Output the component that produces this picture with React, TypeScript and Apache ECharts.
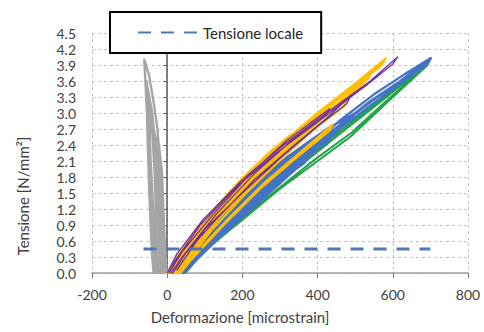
import React, { useEffect, useRef } from "react";
import * as echarts from "echarts";

const xTicks = { min: -200, max: 800, interval: 200 };
const yTicks = { min: 0, max: 4.5, interval: 0.3 };

const grayCycles: [number, number][] = [
  [-8, 0], [-11, 0.6], [-14, 1.3], [-18, 2.0], [-26, 2.7], [-36, 3.2], [-48, 3.7], [-61, 4.0],
  [-58, 3.6], [-54, 3.0], [-51, 2.3], [-48, 1.6], [-44, 0.9], [-40, 0.3], [-36, 0],
  [-20, 0], [-22, 0.8], [-26, 1.6], [-32, 2.4], [-40, 3.0], [-50, 3.4],
  [-48, 3.0], [-45, 2.3], [-42, 1.5], [-38, 0.8], [-33, 0.2], [-28, 0],
  [-2, 0], [-6, 0.5], [-10, 1.2], [-14, 1.9], [-22, 2.4], [-35, 2.6],
  [-34, 2.3], [-32, 1.7], [-30, 1.0], [-27, 0.4], [-22, 0],
  [-14, 0], [-17, 0.9], [-22, 1.8], [-30, 2.5], [-45, 3.0],
  [-46, 2.6], [-44, 1.8], [-40, 1.0], [-35, 0.3], [-30, 0],
  [-26, 0], [-29, 0.9], [-33, 1.8], [-39, 2.6], [-47, 3.2], [-55, 3.6],
  [-52, 3.2], [-47, 2.5], [-41, 1.7], [-36, 1.0], [-32, 0.4], [-15, 0.05], [0, 0],
];

const greenCycles: [number, number][] = [
  [40, 0], [95, 0.45], [190, 1.04], [290, 1.65], [390, 2.22], [461, 2.62], [560, 3.17], [640, 3.62], [701, 4.02],
  [690, 3.88], [600, 3.3], [488, 2.56], [400, 2.1], [300, 1.58], [200, 1.0], [100, 0.42], [48, 0],
  [35, 0], [90, 0.45], [185, 1.07], [285, 1.7], [385, 2.26], [470, 2.72], [570, 3.27], [690, 3.95],
  [680, 3.82], [590, 3.27], [490, 2.63], [395, 2.14], [295, 1.58], [195, 1.0], [95, 0.42], [40, 0],
  [32, 0], [90, 0.5], [180, 1.08], [280, 1.72], [380, 2.3], [460, 2.7],
  [450, 2.56], [370, 2.14], [270, 1.56], [170, 0.95], [80, 0.32], [35, 0],
];

const blueCycles: [number, number][] = [
  [20, 0], [60, 0.35], [130, 0.88], [230, 1.55], [330, 2.15], [430, 2.68], [461, 2.87], [550, 3.35], [630, 3.72], [701, 4.03],
  [690, 3.9], [620, 3.6], [540, 3.2], [450, 2.72], [350, 2.15], [250, 1.55], [150, 0.92], [70, 0.35], [30, 0],
  [30, 0], [75, 0.35], [145, 0.88], [245, 1.55], [345, 2.15], [445, 2.7], [540, 3.22], [620, 3.6], [690, 3.97],
  [680, 3.85], [600, 3.45], [510, 2.98], [420, 2.5], [320, 1.95], [220, 1.35], [120, 0.72], [45, 0.1],
  [15, 0], [55, 0.38], [125, 0.92], [225, 1.6], [325, 2.2], [400, 2.55], [453, 2.7],
  [443, 2.58], [370, 2.25], [270, 1.7], [170, 1.08], [80, 0.45], [25, 0],
  [25, 0], [70, 0.38], [140, 0.9], [240, 1.55], [340, 2.12], [420, 2.55],
  [410, 2.44], [330, 2.02], [230, 1.45], [130, 0.82], [55, 0.25], [28, 0],
  [35, 0], [80, 0.36], [150, 0.88], [250, 1.52], [330, 1.98], [373, 2.18],
  [365, 2.06], [300, 1.75], [200, 1.18], [110, 0.6], [40, 0],
  [10, 0], [50, 0.36], [120, 0.9], [220, 1.58], [320, 2.18], [420, 2.68], [500, 3.0],
  [490, 2.88], [410, 2.55], [310, 2.05], [210, 1.45], [110, 0.78], [30, 0.05],
  [45, 0], [90, 0.35], [160, 0.85], [260, 1.48], [350, 2.05],
  [342, 1.95], [260, 1.42], [160, 0.8], [70, 0.2], [42, 0],
  [22, 0], [65, 0.4], [135, 0.95], [235, 1.62], [320, 2.12], [395, 2.48], [440, 2.62],
  [432, 2.5], [360, 2.1], [280, 1.6], [180, 1.0], [90, 0.42], [30, 0],
  [38, 0], [85, 0.4], [155, 0.95], [255, 1.6], [345, 2.2], [400, 2.42],
  [392, 2.3], [320, 1.88], [240, 1.35], [140, 0.7], [60, 0.15], [40, 0],
];

const yellowCycles: [number, number][] = [
  [0, 0], [30, 0.35], [100, 0.98], [200, 1.76], [300, 2.4], [400, 3.0], [500, 3.55], [581, 4.02],
  [570, 3.9], [490, 3.45], [390, 2.88], [290, 2.28], [190, 1.62], [90, 0.85], [25, 0.25], [10, 0],
  [10, 0], [40, 0.33], [110, 0.95], [210, 1.72], [310, 2.35], [410, 2.92], [480, 3.33], [545, 3.78],
  [535, 3.65], [460, 3.18], [380, 2.7], [280, 2.12], [180, 1.48], [90, 0.78], [20, 0.08],
  [5, 0], [40, 0.4], [110, 1.03], [210, 1.8], [300, 2.38], [405, 3.0],
  [395, 2.88], [300, 2.3], [200, 1.65], [100, 0.9], [15, 0.05],
  [0, 0], [35, 0.4], [100, 1.0], [200, 1.78], [270, 2.25], [330, 2.6],
  [322, 2.5], [260, 2.1], [180, 1.55], [90, 0.88], [20, 0.1],
  [20, 0], [60, 0.4], [130, 1.0], [230, 1.78], [330, 2.4], [440, 3.05], [480, 3.25],
  [470, 3.12], [400, 2.75], [300, 2.15], [200, 1.5], [110, 0.82], [30, 0.05],
  [35, 0], [80, 0.4], [160, 1.0], [260, 1.7], [360, 2.3], [440, 2.78],
  [430, 2.66], [350, 2.2], [250, 1.6], [150, 0.9], [60, 0.22], [35, 0],
  [10, 0], [45, 0.4], [115, 1.0], [200, 1.68], [280, 2.3],
  [272, 2.18], [200, 1.6], [120, 0.95], [50, 0.35], [15, 0],
  [15, 0], [55, 0.42], [125, 1.02], [215, 1.72], [300, 2.3], [360, 2.68],
  [352, 2.55], [290, 2.15], [200, 1.52], [110, 0.85], [40, 0.22], [18, 0],
  [25, 0], [70, 0.45], [140, 1.05], [230, 1.7], [310, 2.25], [380, 2.7],
  [372, 2.58], [300, 2.12], [210, 1.5], [120, 0.82], [45, 0.15], [25, 0],
];

const purpleCycles: [number, number][] = [
  [0, 0], [25, 0.35], [95, 1.0], [200, 1.75], [300, 2.35], [400, 2.88], [461, 3.19], [540, 3.6], [613, 4.05],
  [600, 3.92], [530, 3.52], [450, 3.1], [390, 2.78], [290, 2.25], [190, 1.65], [90, 0.92], [20, 0.22], [5, 0],
  [5, 0], [40, 0.4], [120, 1.08], [220, 1.85], [320, 2.5], [432, 3.08],
  [420, 2.95], [330, 2.48], [230, 1.85], [130, 1.1], [40, 0.3], [10, 0],
  [15, 0], [50, 0.38], [130, 1.0], [230, 1.74], [330, 2.35], [420, 2.88], [488, 3.32],
  [478, 3.18], [400, 2.75], [300, 2.15], [200, 1.5], [100, 0.82], [25, 0.05],
];

const localStress: [number, number][] = [
  [-63, 0.45],
  [700, 0.45],
];

const FONT = "Lato, 'Open Sans', sans-serif";
const TEXT = "#404040";

export default function App() {
  const ref = useRef<HTMLDivElement>(null);

  useEffect(() => {
    if (!ref.current) return;
    const chart = echarts.init(ref.current, undefined, { renderer: "svg" });
    const lineSeries = (name: string, data: [number, number][], color: string, width: number) => ({
      name,
      type: "line",
      data,
      showSymbol: false,
      symbol: "none",
      smooth: false,
      lineStyle: { color, width, join: "round" },
      itemStyle: { color },
      z: 2,
    });
    chart.setOption({
      animation: false,
      backgroundColor: "#ffffff",
      textStyle: { fontFamily: FONT },
      grid: { left: 92, right: 16, top: 33, bottom: 59, containLabel: false },
      legend: {
        data: ["Tensione locale"],
        left: 110,
        top: 12,
        selectedMode: false,
        itemWidth: 60,
        itemHeight: 14,
        itemStyle: { opacity: 0 },
        padding: [13, 18, 13, 27],
        borderColor: "#000000",
        borderWidth: 2,
        backgroundColor: "#ffffff",
        textStyle: { fontSize: 15, color: "#262626", fontFamily: FONT },
      },
      xAxis: {
        type: "value",
        min: xTicks.min,
        max: xTicks.max,
        interval: xTicks.interval,
        name: "Deformazione [microstrain]",
        nameLocation: "middle",
        nameGap: 36,
        nameTextStyle: { fontSize: 15, color: TEXT, fontFamily: FONT, padding: [0, 80, 0, 0] },
        axisLine: { onZero: false, lineStyle: { color: "#a0a0a0", width: 1.5 } },
        axisTick: { show: true, length: 5, lineStyle: { color: "#707070" } },
        axisLabel: { fontSize: 14, color: TEXT, margin: 14, fontFamily: FONT },
        splitLine: { show: true, lineStyle: { color: "#c4c4c4", type: [3, 3], width: 1 } },
      },
      yAxis: [
        {
          type: "value",
          min: yTicks.min,
          max: yTicks.max,
          interval: yTicks.interval,
          position: "left",
          axisLine: { show: true, onZero: true, lineStyle: { color: "#595959", width: 1.5 } },
          axisTick: { show: true, length: 4, lineStyle: { color: "#595959" } },
          axisLabel: { show: false },
          splitLine: { show: true, lineStyle: { color: "#c4c4c4", type: [3, 3], width: 1 } },
        },
        {
          type: "value",
          min: yTicks.min,
          max: yTicks.max,
          interval: yTicks.interval,
          position: "left",
          name: "Tensione [N/mm²]",
          nameLocation: "middle",
          nameRotate: 90,
          nameGap: 62,
          nameTextStyle: { fontSize: 15, color: TEXT, fontFamily: FONT, padding: [0, 86, 0, 0] },
          axisLine: { show: false, onZero: false },
          axisTick: { show: false },
          axisLabel: {
            fontSize: 14,
            color: TEXT,
            margin: 16,
            fontFamily: FONT,
            formatter: (v: number) => v.toFixed(1),
          },
          splitLine: { show: false },
        },
      ],
      series: [
        lineSeries("Grigio", grayCycles, "#a5a5a5", 2.4),
        lineSeries("Verde", greenCycles, "#1fa447", 2),
        lineSeries("Blu", blueCycles, "#4472c4", 2.3),
        lineSeries("Giallo", yellowCycles, "#ffbf00", 2.3),
        lineSeries("Viola", purpleCycles, "#7030a0", 1.3),
        {
          name: "Tensione locale",
          type: "line",
          data: localStress,
          showSymbol: false,
          symbol: "none",
          lineStyle: { color: "#4f78b5", width: 3, type: [13, 10] },
          itemStyle: { color: "#4f78b5" },
          z: 5,
        },
      ],
    });
    return () => chart.dispose();
  }, []);

  return <div ref={ref} style={{ width: 484, height: 332, position: "absolute", left: 0, top: 0 }} />;
}
